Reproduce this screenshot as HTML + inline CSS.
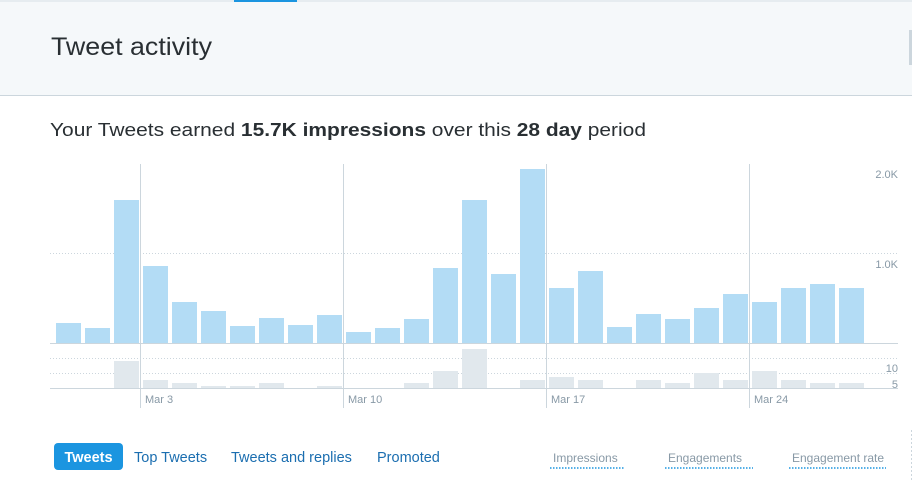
<!DOCTYPE html>
<html><head><meta charset="utf-8"><style>
html,body{margin:0;padding:0;background:#fff;width:912px;height:480px;overflow:hidden}
svg{display:block;font-family:"Liberation Sans",Arial,sans-serif}
</style></head><body>
<svg width="912" height="480" viewBox="0 0 912 480" xmlns="http://www.w3.org/2000/svg">
<rect x="0" y="0" width="912" height="95" fill="#f5f8fa"/>
<rect x="0" y="0" width="912" height="2" fill="#e6ecf0"/>
<rect x="234" y="0" width="63" height="2" fill="#1b95e0"/>
<rect x="0" y="95" width="912" height="1" fill="#ccd6dd"/>
<rect x="909" y="30" width="3" height="35" fill="#ccd6dd"/>
<text x="51" y="55" font-size="25" fill="#292f33" textLength="161" lengthAdjust="spacingAndGlyphs">Tweet activity</text>
<text x="50" y="136" font-size="18" fill="#292f33" textLength="596" lengthAdjust="spacingAndGlyphs">Your Tweets earned <tspan font-weight="bold">15.7K impressions</tspan> over this <tspan font-weight="bold">28 day</tspan> period</text>
<g stroke="#ccd6dd" stroke-width="1" stroke-dasharray="1,2">
<line x1="50" y1="253.5" x2="898" y2="253.5"/>
<line x1="50" y1="358.5" x2="898" y2="358.5"/>
<line x1="50" y1="373.5" x2="898" y2="373.5"/>
</g>
<g fill="#b3dcf5" id="bars"></g>
<g fill="#e1e8ed" id="bars2"></g>
<g stroke="#ccd6dd" stroke-width="1">
<line x1="140.5" y1="164" x2="140.5" y2="408"/>
<line x1="343.5" y1="164" x2="343.5" y2="408"/>
<line x1="546.5" y1="164" x2="546.5" y2="408"/>
<line x1="749.5" y1="164" x2="749.5" y2="408"/>
</g>
<rect x="50" y="343" width="848" height="1" fill="#ccd6dd"/>
<rect x="50" y="388" width="848" height="1" fill="#ccd6dd"/>
<g font-size="11" fill="#8899a6">
<text x="145" y="403">Mar 3</text>
<text x="348" y="403">Mar 10</text>
<text x="551" y="403">Mar 17</text>
<text x="754" y="403">Mar 24</text>
<text x="898" y="178" text-anchor="end">2.0K</text>
<text x="898" y="268" text-anchor="end">1.0K</text>
<text x="898" y="372" text-anchor="end">10</text>
<text x="898" y="388" text-anchor="end">5</text>
</g>
<rect x="54" y="443" width="69" height="27" rx="4" fill="#1b95e0"/>
<g font-size="14.5">
<text x="88.5" y="462" fill="#fff" text-anchor="middle" font-weight="bold">Tweets</text>
<text x="134" y="462" fill="#1b6eb0">Top Tweets</text>
<text x="231" y="462" fill="#1b6eb0">Tweets and replies</text>
<text x="377" y="462" fill="#1b6eb0">Promoted</text>
</g>
<g font-size="12" fill="#8899a6">
<text x="553" y="462">Impressions</text>
<text x="668" y="462">Engagements</text>
<text x="792" y="462">Engagement rate</text>
</g>
<g stroke="#1b95e0" stroke-width="1.5" stroke-dasharray="1.5,1.5">
<line x1="550" y1="468" x2="624" y2="468"/>
<line x1="665" y1="468" x2="753" y2="468"/>
<line x1="789" y1="468" x2="886" y2="468"/>
</g>
<line x1="911.5" y1="430" x2="911.5" y2="480" stroke="#ccd6dd" stroke-dasharray="2,2"/>
</svg>
<script>
var tops=[323,328,200,266,302,311,326,318,325,315,332,328,319,268,200,274,169,288,271,327,314,319,308,294,302,288,284,288];
var low=[0,0,361,380,383,386,386,383,0,386,0,0,383,371,349,0,380,377,380,0,380,383,373,380,371,380,383,383];
var ns="http://www.w3.org/2000/svg",g=document.getElementById("bars"),g2=document.getElementById("bars2");
for(var i=0;i<28;i++){var x=56+29*i;
var r=document.createElementNS(ns,"rect");r.setAttribute("x",x);r.setAttribute("y",tops[i]);r.setAttribute("width",25);r.setAttribute("height",343-tops[i]);g.appendChild(r);
if(low[i]){var q=document.createElementNS(ns,"rect");q.setAttribute("x",x);q.setAttribute("y",low[i]);q.setAttribute("width",25);q.setAttribute("height",388-low[i]);g2.appendChild(q);}}
</script>
</body></html>
